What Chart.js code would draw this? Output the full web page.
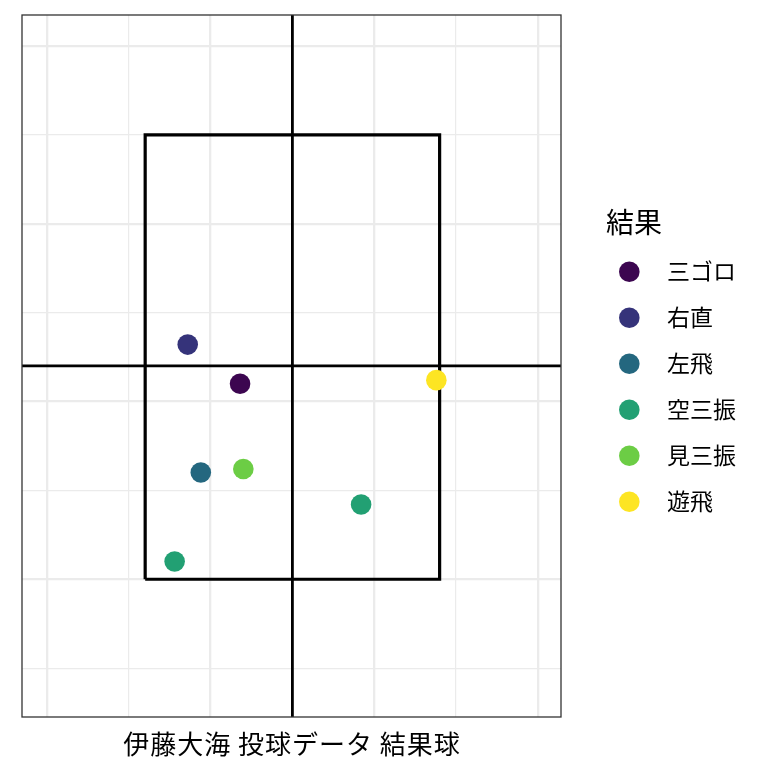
<!DOCTYPE html>
<html>
<head>
<meta charset="utf-8">
<script src="https://cdn.jsdelivr.net/npm/chart.js@4.4.1/dist/chart.umd.min.js"></script>
<style>
html,body{margin:0;padding:0;background:#fff;}
#wrap{width:768px;height:768px;position:relative;}
</style>
</head>
<body>
<div id="wrap"><canvas id="c" width="768" height="768"></canvas></div>
<script>
// ---- data ----
const categories = ["三ゴロ", "右直", "左飛", "空三振", "見三振", "遊飛"];
const colors = ["#3c0650", "#35337a", "#24677f", "#22a073", "#6ccd45", "#fde523"];
const pitchX = [1.18, 0.86, 0.94, 0.78, 1.20, 2.38, 1.92];
const pitchY = [1.10, 1.32, 0.60, 0.10, 0.62, 1.12, 0.42];
const pitchResult = ["三ゴロ", "右直", "左飛", "空三振", "見三振", "遊飛", "空三振"];
const zoneX = [0.6, 2.4];
const zoneY = [0.0, 2.5];
const centerX = 1.5;
const centerY = 1.2;
const xMajor = [0, 1, 2, 3];
const xMinor = [0.5, 1.5, 2.5];
const yMajor = [0, 1, 2, 3];
const yMinor = [-0.5, 0.5, 1.5, 2.5];
const xRange = [-0.153, 3.142];
const yRange = [-0.775, 3.174];
const axisTitle = "伊藤大海 投球データ 結果球";
const legendTitle = "結果";

const FONT = "'Noto Sans CJK JP', 'Noto Sans', sans-serif";

const pointSets = categories.map((cat, i) => ({
  label: cat,
  type: 'scatter',
  data: pitchX.map((x, k) => ({x: x, y: pitchY[k], r: pitchResult[k]})).filter(p => p.r === cat),
  backgroundColor: colors[i],
  borderWidth: 0,
  pointRadius: 10.3,
  pointHoverRadius: 10.3,
  order: 0
}));

const zoneSet = {
  label: 'zone', type: 'line',
  data: [
    {x: zoneX[0], y: zoneY[0]}, {x: zoneX[1], y: zoneY[0]},
    {x: zoneX[1], y: zoneY[1]}, {x: zoneX[0], y: zoneY[1]},
    {x: zoneX[0], y: zoneY[0]}
  ],
  borderColor: '#000', borderWidth: 3.2, pointRadius: 0, fill: false, tension: 0,
  borderJoinStyle: 'miter', order: 2
};
const vSet = {
  label: 'v', type: 'line',
  data: [{x: centerX, y: yRange[0]}, {x: centerX, y: yRange[1]}],
  borderColor: '#000', borderWidth: 2.8, pointRadius: 0, fill: false, order: 2
};
const hSet = {
  label: 'h', type: 'line',
  data: [{x: xRange[0], y: centerY}, {x: xRange[1], y: centerY}],
  borderColor: '#000', borderWidth: 2.8, pointRadius: 0, fill: false, order: 2
};

const decor = {
  id: 'decor',
  afterDraw(chart) {
    const ctx = chart.ctx;
    const a = chart.chartArea;
    ctx.save();
    // panel border
    ctx.strokeStyle = '#333333';
    ctx.lineWidth = 1.3;
    ctx.strokeRect(a.left, a.top, a.right - a.left, a.bottom - a.top);
    // axis title
    ctx.fillStyle = '#000';
    ctx.font = '26px ' + FONT;
    ctx.letterSpacing = '1px';
    ctx.textAlign = 'center';
    ctx.textBaseline = 'middle';
    ctx.fillText(axisTitle, (a.left + a.right) / 2 + 0.5, 744);
    ctx.letterSpacing = '0px';
    // legend
    ctx.textAlign = 'left';
    ctx.font = '28px ' + FONT;
    ctx.fillText(legendTitle, 606, 222);
    ctx.font = '23px ' + FONT;
    categories.forEach((cat, i) => {
      const y = 271.7 + i * 46;
      ctx.beginPath();
      ctx.arc(629.3, y, 10.3, 0, Math.PI * 2);
      ctx.fillStyle = colors[i];
      ctx.fill();
      ctx.fillStyle = '#000';
      ctx.fillText(cat, 667, y);
    });
    ctx.restore();
  }
};

function gridWidth(majors) {
  return (c) => {
    const v = c.tick ? c.tick.value : null;
    return majors.some(m => Math.abs(m - v) < 1e-6) ? 2.3 : 1.2;
  };
}

new Chart(document.getElementById('c'), {
  data: { datasets: [zoneSet, vSet, hSet, ...pointSets] },
  options: {
    responsive: false,
    animation: false,
    layout: { padding: { left: 22, top: 15, right: 207, bottom: 51 } },
    plugins: { legend: { display: false }, tooltip: { enabled: false } },
    scales: {
      x: {
        type: 'linear', min: xRange[0], max: xRange[1],
        afterBuildTicks: (s) => { s.ticks = [...xMajor, ...xMinor].sort((a,b)=>a-b).map(v => ({value: v})); },
        ticks: { display: false },
        border: { display: false },
        grid: { color: '#EBEBEB', lineWidth: gridWidth(xMajor), drawTicks: false }
      },
      y: {
        type: 'linear', min: yRange[0], max: yRange[1],
        afterBuildTicks: (s) => { s.ticks = [...yMajor, ...yMinor].sort((a,b)=>a-b).map(v => ({value: v})); },
        ticks: { display: false },
        border: { display: false },
        grid: { color: '#EBEBEB', lineWidth: gridWidth(yMajor), drawTicks: false }
      }
    }
  },
  plugins: [decor]
});
</script>
</body>
</html>
